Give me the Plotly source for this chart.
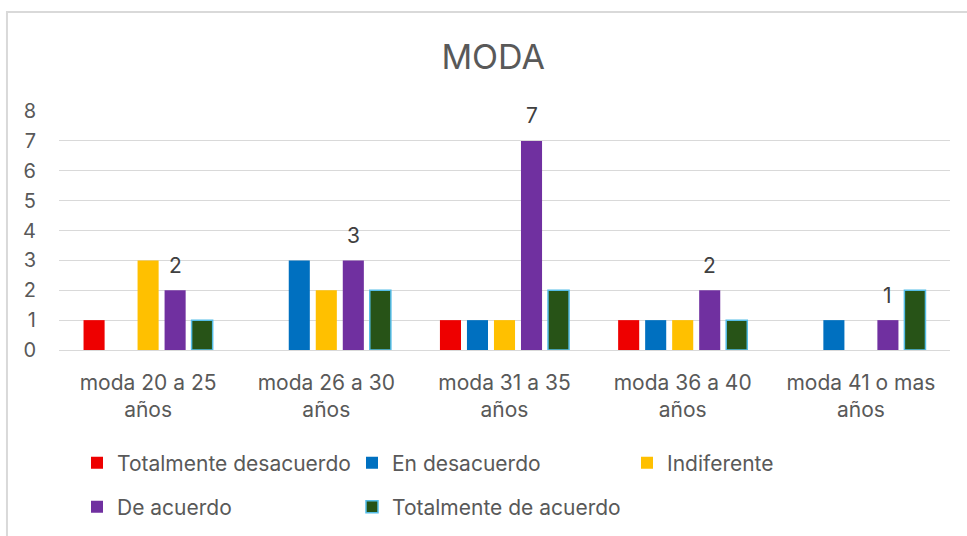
import plotly.graph_objects as go

categories = ["moda 20 a 25<br>años", "moda 26 a 30<br>años", "moda 31 a 35<br>años",
              "moda 36 a 40<br>años", "moda 41 o mas<br>años"]
series_names = ["Totalmente desacuerdo", "En desacuerdo", "Indiferente", "De acuerdo", "Totalmente de acuerdo"]
totalmente_desacuerdo = [1, 0, 1, 1, 0]
en_desacuerdo = [0, 3, 1, 1, 1]
indiferente = [3, 2, 1, 1, 0]
de_acuerdo = [2, 3, 7, 2, 1]
totalmente_de_acuerdo = [1, 2, 2, 1, 2]
y_ticks = [0, 1, 2, 3, 4, 5, 6, 7, 8]

values = [totalmente_desacuerdo, en_desacuerdo, indiferente, de_acuerdo, totalmente_de_acuerdo]
colors = ["#EE0000", "#0070C0", "#FFC000", "#7030A0", "#275317"]
line_colors = [None, None, None, None, "#55BDE8"]
legends = ["legend", "legend", "legend", "legend2", "legend2"]

FONT = "Inter"
GRAY = "#595959"

fig = go.Figure()
for name, vals, col, lc, lg in zip(series_names, values, colors, line_colors, legends):
    fig.add_trace(go.Bar(
        x=categories, y=vals, name=name, legend=lg,
        marker=dict(color=col, line=dict(color=lc if lc else col, width=1.5 if lc else 0)),
    ))

# data labels for "De acuerdo"
for cat, v in zip(categories, de_acuerdo):
    fig.add_annotation(x=cat, y=v, text=str(v), showarrow=False, xshift=27, yshift=25,
                       yanchor="middle", font=dict(family=FONT, size=21, color="#404040"))

fig.add_shape(type="rect", xref="paper", yref="paper",
              x0=-0.0584, x1=1.04, y0=-0.9, y1=1.414,
              line=dict(color="#D9D9D9", width=2), fillcolor="rgba(0,0,0,0)", layer="below")

leg_common = dict(orientation="h", xanchor="left", yanchor="middle", entrywidth=230,
                  entrywidthmode="pixels", font=dict(family=FONT, size=21, color=GRAY),
                  bgcolor="rgba(0,0,0,0)", itemwidth=30, traceorder="normal",
                  xref="container", yref="container")

fig.update_layout(
    width=967, height=536,
    paper_bgcolor="white", plot_bgcolor="white",
    margin=dict(l=59, r=17, t=111, b=186, autoexpand=False),
    barmode="group", bargap=0.242, bargroupgap=0.22,
    title=dict(text="MODA", x=0.51, xref="container", y=1 - 57 / 536, yref="container",
               xanchor="center", yanchor="middle",
               font=dict(family=FONT, size=34, color=GRAY)),
    font=dict(family=FONT, size=21, color=GRAY),
    legend=dict(x=77 / 967, y=1 - 463 / 536, **leg_common),
    legend2=dict(x=77 / 967, y=1 - 507 / 536, **leg_common),
    showlegend=True,
)
fig.update_xaxes(showgrid=False, showline=False, ticks="", ticklabelstandoff=18, automargin=False,
                 tickfont=dict(family=FONT, size=21, color=GRAY))
fig.update_yaxes(range=[0, 8], tickvals=y_ticks, showgrid=True, gridcolor="#D9D9D9", gridwidth=1.3,
                 zeroline=True, zerolinecolor="#D9D9D9", zerolinewidth=1.3, showline=False,
                 automargin=False,
                 ticks="", ticklabelstandoff=22, tickfont=dict(family=FONT, size=20, color=GRAY))

fig.write_html("out.html", config={"displayModeBar": False},
               post_script="document.body.style.margin='0';")
